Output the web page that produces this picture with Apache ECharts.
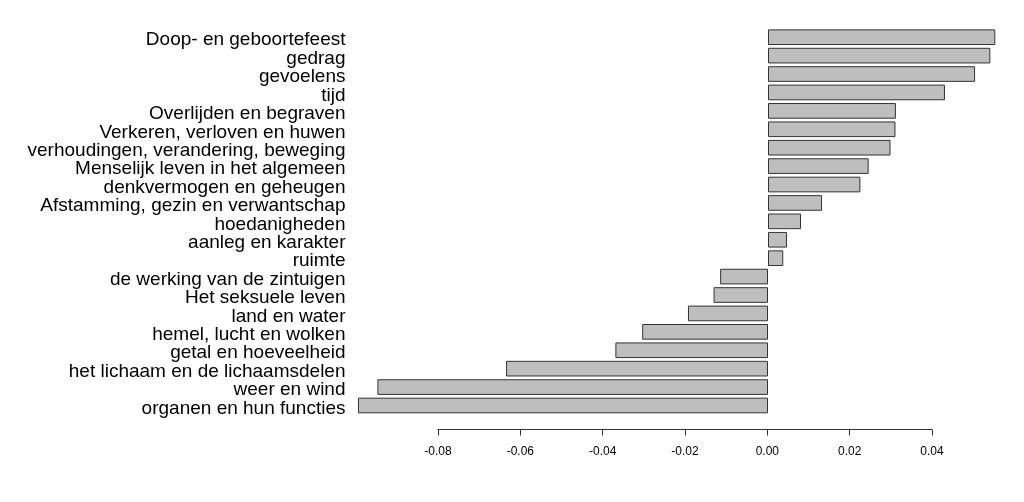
<!DOCTYPE html>
<html>
<head>
<meta charset="utf-8">
<script src="https://cdn.jsdelivr.net/npm/echarts@6/dist/echarts.min.js"></script>
<style>html,body{margin:0;padding:0;background:#fff;}#c{width:1024px;height:502px;}</style>
</head>
<body>
<div id="c"></div>
<script>
var categories = [
  "Doop- en geboortefeest", "gedrag", "gevoelens", "tijd",
  "Overlijden en begraven", "Verkeren, verloven en huwen",
  "verhoudingen, verandering, beweging", "Menselijk leven in het algemeen",
  "denkvermogen en geheugen", "Afstamming, gezin en verwantschap",
  "hoedanigheden", "aanleg en karakter", "ruimte",
  "de werking van de zintuigen", "Het seksuele leven", "land en water",
  "hemel, lucht en wolken", "getal en hoeveelheid",
  "het lichaam en de lichaamsdelen", "weer en wind", "organen en hun functies"
];
var values = [
  0.0551, 0.0539, 0.0502, 0.0429, 0.0310, 0.0309, 0.0297, 0.0244, 0.0224,
  0.0131, 0.0080, 0.0046, 0.0037, -0.0116, -0.0132, -0.0194, -0.0305,
  -0.0370, -0.0635, -0.0947, -0.0994
];
var tickMin = -0.08, tickMax = 0.04, tickStep = 0.02;

var chart = echarts.init(document.getElementById('c'), null, {renderer: 'canvas'});
chart.setOption({
  animation: false,
  backgroundColor: '#ffffff',
  grid: [
    {left: 355.5, right: 8.5, top: 28, bottom: 87.3, containLabel: false},
    {left: 438, right: 92, top: 20, bottom: 72.5, containLabel: false}
  ],
  xAxis: [
    {gridIndex: 0, type: 'value', min: -0.1, max: 0.06, show: false},
    {gridIndex: 1, type: 'value', min: tickMin, max: tickMax, interval: tickStep,
     position: 'bottom',
     axisLine: {show: true, lineStyle: {color: '#333', width: 1}},
     axisTick: {show: true, length: 6, lineStyle: {color: '#333'}},
     splitLine: {show: false},
     axisLabel: {color: '#000', fontFamily: 'Liberation Sans, Arial', fontSize: 12, margin: 16,
       formatter: function (v) { return v.toFixed(2); }}
    }
  ],
  yAxis: [
    {gridIndex: 0, type: 'category', data: categories, inverse: true,
     axisLine: {show: false}, axisTick: {show: false}, splitLine: {show: false},
     axisLabel: {interval: 0, color: '#000', margin: 10,
       formatter: function (v) { return '{a|' + v + '}'; },
       rich: {a: {color: '#000', fontFamily: 'Liberation Sans, Arial', fontSize: 19,
                  padding: [6, 0, 0, 0]}}}
    },
    {gridIndex: 1, type: 'value', show: false, min: 0, max: 1}
  ],
  series: [{
    type: 'bar',
    xAxisIndex: 0, yAxisIndex: 0,
    data: values,
    barCategoryGap: '15%',
    itemStyle: {color: '#bebebe', borderColor: '#333', borderWidth: 1}
  }]
});
</script>
</body>
</html>
